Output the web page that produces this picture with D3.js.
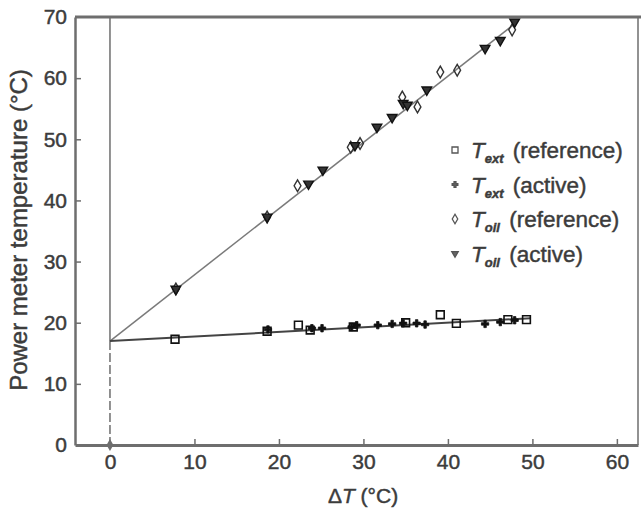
<!DOCTYPE html>
<html>
<head>
<meta charset="utf-8">
<script src="https://cdn.jsdelivr.net/npm/d3@7"></script>
<style>
  html, body { margin: 0; padding: 0; background: #fff; }
  svg { display: block; font-family: "Liberation Sans", Arial, sans-serif; }
  text { stroke: #3c3c3c; stroke-width: 0.45px; }
</style>
</head>
<body>
<svg id="chart" width="641" height="509"></svg>
<script>
// Power meter temperature versus temperature difference ΔT
const extRefDT = [7.7, 18.6, 22.3, 23.7, 28.8, 35.0, 39.1, 41.0, 47.1, 49.3];
const extRefT  = [17.3, 18.6, 19.6, 18.8, 19.3, 20.0, 21.3, 19.9, 20.5, 20.5];
const extActDT = [18.7, 23.9, 25.1, 28.6, 29.2, 31.7, 33.4, 34.7, 36.3, 37.3, 44.4, 46.2, 47.9];
const extActT  = [18.9, 19.1, 19.1, 19.3, 19.6, 19.6, 19.8, 19.9, 19.9, 19.7, 19.8, 20.1, 20.4];
const oilRefDT = [7.8, 18.6, 22.2, 28.5, 29.6, 34.6, 36.4, 39.1, 41.1, 47.6];
const oilRefT  = [25.5, 37.3, 42.4, 48.7, 49.3, 56.9, 55.3, 61.0, 61.3, 67.9];
const oilActDT = [7.8, 18.6, 23.5, 25.2, 29.0, 31.6, 33.4, 34.7, 35.2, 37.5, 44.4, 46.2, 47.9];
const oilActT  = [25.5, 37.3, 42.7, 45.0, 49.0, 52.0, 53.6, 55.9, 55.6, 58.1, 64.9, 66.2, 69.2];

// Linear fits (common intercept at ΔT = 0)
const fitIntercept = 17.0;
const fitSlopes = [1.083, 0.075];   // oil, ext
const fitEnds   = [48.1, 49.8];

const xTicks = [0, 10, 20, 30, 40, 50, 60];
const yTicks = [0, 10, 20, 30, 40, 50, 60, 70];
const legendNames = ["ext", "ext", "oil", "oil"];
const legendTags  = ["(reference)", "(active)", "(reference)", "(active)"];

const svg = d3.select("#chart");
const x = d3.scaleLinear().domain([-4.14, 62.5]).range([75, 638]);
const y = d3.scaleLinear().domain([0, 70]).range([445, 17]);

const axisColor = "#6e6e6e";
const textColor = "#3c3c3c";
const font = "Liberation Sans, Arial, sans-serif";

// frame
svg.append("line").attr("x1", 75).attr("x2", 641).attr("y1", y(70)).attr("y2", y(70))
  .attr("stroke", axisColor).attr("stroke-width", 3);
svg.append("line").attr("x1", x(62.5)).attr("x2", x(62.5)).attr("y1", y(70)).attr("y2", y(0))
  .attr("stroke", axisColor).attr("stroke-width", 1.5);

// axes
const xAxis = d3.axisBottom(x).tickValues(xTicks).tickSize(-6).tickPadding(9).tickSizeOuter(0);
const gx = svg.append("g").attr("transform", `translate(0,${y(0)})`).call(xAxis);
gx.select(".domain").attr("stroke", axisColor).attr("stroke-width", 3);
gx.selectAll(".tick line").attr("stroke", axisColor).attr("stroke-width", 1.5);
gx.selectAll(".tick").filter(d => d === 0).select("line").remove();
gx.selectAll("text").attr("fill", textColor).attr("font-size", 21).attr("font-family", font);

const yAxis = d3.axisLeft(y).tickValues(yTicks).tickSize(-6).tickPadding(8).tickSizeOuter(0);
const gy = svg.append("g").attr("transform", `translate(${x(-4.14)},0)`).call(yAxis);
gy.select(".domain").attr("stroke", axisColor).attr("stroke-width", 2.5);
gy.selectAll(".tick line").attr("stroke", axisColor).attr("stroke-width", 1.5);
gy.selectAll(".tick").filter(d => d === 0 || d === 70).select("line").remove();
gy.selectAll("text").attr("fill", textColor).attr("font-size", 21).attr("font-family", font);

// ΔT = 0 reference line: solid above the intercept, dashed below
svg.append("line").attr("x1", x(0)).attr("x2", x(0)).attr("y1", y(70)).attr("y2", y(fitIntercept))
  .attr("stroke", axisColor).attr("stroke-width", 1.5);
svg.append("line").attr("x1", x(0)).attr("x2", x(0)).attr("y1", y(fitIntercept)).attr("y2", y(0))
  .attr("stroke", axisColor).attr("stroke-width", 1.5).attr("stroke-dasharray", "9,3");
svg.append("path").attr("d", d3.symbol(d3.symbolDiamond, 40)())
  .attr("transform", `translate(${x(0)},${y(0)})`).attr("fill", axisColor);

// fit lines
fitSlopes.forEach((s, i) => {
  svg.append("line")
    .attr("x1", x(0)).attr("y1", y(fitIntercept))
    .attr("x2", x(fitEnds[i])).attr("y2", y(fitIntercept + s * fitEnds[i]))
    .attr("stroke", i === 0 ? "#7a7a7a" : "#444").attr("stroke-width", i === 0 ? 1.5 : 2);
});

// markers
const markers = {
  square:   { type: d3.symbolSquare,   size: 60, fill: "none",  stroke: "#111", sw: 1.6 },
  cross:    { type: d3.symbolCross,    size: 30, fill: "#111",  stroke: "#111", sw: 0.8 },
  diamond:  { type: d3.symbolDiamond,  size: 40, fill: "none",  stroke: "#333", sw: 1.4 },
  triangle: { type: d3.symbolTriangle, size: 40, fill: "#333",  stroke: "#111", sw: 1.4 }
};
const series = [
  { dt: extRefDT, t: extRefT, m: "square" },
  { dt: extActDT, t: extActT, m: "cross" },
  { dt: oilRefDT, t: oilRefT, m: "diamond" },
  { dt: oilActDT, t: oilActT, m: "triangle" }
];
function drawSymbol(g, m, cx, cy) {
  const spec = markers[m];
  g.append("path")
    .attr("d", d3.symbol(spec.type, spec.size)())
    .attr("transform", `translate(${cx},${cy})` + (m === "triangle" ? " rotate(180)" : ""))
    .attr("fill", spec.fill).attr("stroke", spec.stroke).attr("stroke-width", spec.sw);
}
series.forEach(s => {
  const g = svg.append("g");
  s.dt.forEach((d, i) => drawSymbol(g, s.m, x(d), y(s.t[i])));
});

// legend
const lg = svg.append("g").attr("fill", textColor).attr("font-size", 22.5).attr("font-family", font);
series.forEach((s, i) => {
  const ly = 150 + i * 34.5;
  const spec = markers[s.m];
  const small = { square: 36, cross: 18, diamond: 26, triangle: 18 }[s.m];
  lg.append("path")
    .attr("d", d3.symbol(spec.type, small)())
    .attr("transform", `translate(455,${ly})` + (s.m === "triangle" ? " rotate(180)" : ""))
    .attr("fill", s.m === "cross" || s.m === "triangle" ? "#666" : "none")
    .attr("stroke", "#555").attr("stroke-width", 1.3);
  const t = lg.append("text").attr("x", 471).attr("y", ly + 8);
  t.append("tspan").attr("font-style", "italic").text("T");
  t.append("tspan").attr("font-style", "italic").attr("font-weight", "bold")
    .attr("font-size", 13).attr("dy", 5).text(legendNames[i]);
  t.append("tspan").attr("dy", -5).attr("dx", 3).text(" " + legendTags[i]);
});

// axis titles
const xt = svg.append("text").attr("x", 363).attr("y", 503).attr("text-anchor", "middle")
  .attr("fill", textColor).attr("font-size", 21).attr("font-family", font);
xt.append("tspan").text("Δ");
xt.append("tspan").attr("font-style", "italic").text("T");
xt.append("tspan").text(" (°C)");

svg.append("text")
  .attr("transform", "translate(27,230) rotate(-90)")
  .attr("text-anchor", "middle").attr("fill", textColor).attr("font-size", 24).attr("font-family", font)
  .text("Power meter temperature (°C)");
</script>
</body>
</html>
